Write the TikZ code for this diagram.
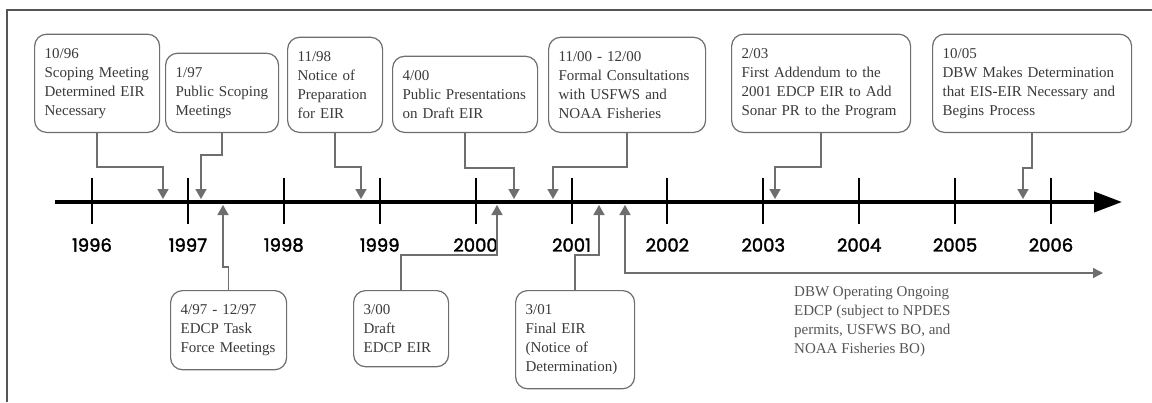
\documentclass[tikz,border=0pt]{standalone}
\usepackage{fontspec}
\setmainfont{Liberation Serif}
\newfontfamily\yearfont[FakeBold=2]{Poppins}
\usetikzlibrary{arrows.meta}
\definecolor{framegray}{HTML}{555555}
\definecolor{boxgray}{HTML}{6E6E6E}
\definecolor{txtgray}{HTML}{3A3A3A}

\begin{document}
\begin{tikzpicture}[x=1pt, y=-1pt,
    evbox/.style={draw=boxgray, line width=1.2pt, rounded corners=12pt, fill=white,
        align=left, inner xsep=10pt, inner ysep=14pt, text=txtgray,
        font=\fontsize{15}{19}\selectfont},
    conn/.style={draw=boxgray, line width=1.4pt, -{Triangle[width=11pt,length=10pt]}},
    tick/.style={line width=2pt, black},
    yearlbl/.style={font=\yearfont\fontsize{18}{20}\selectfont}]
    \useasboundingbox (0,0) rectangle (1152,402);
    \draw [framegray, line width=2pt] (7,402) -- (7,10) -- (1152,10);

    % time axis
    \coordinate (axL) at (55,202);
    \coordinate (axR) at (1122,202);
    \draw [line width=4pt, -{Triangle[width=20pt,length=28pt]}] (axL) -- (axR);
    \foreach \yr [count=\i from 0] in {1996,...,2006} {
        \draw [tick] (92+95.9*\i,178) -- ++(0,46);
        \node [yearlbl] (y\yr) at (92+95.9*\i,245) {\yr};
    }

    % events on the axis
    \coordinate (e1) at (163,199);
    \coordinate (e2) at (201,199);
    \coordinate (e3) at (361,199);
    \coordinate (e4) at (514,199);
    \coordinate (e5) at (553,199);
    \coordinate (e6) at (775,199);
    \coordinate (e7) at (1023,199);
    \coordinate (e8) at (223,205);
    \coordinate (e9) at (497,205);
    \coordinate (e10) at (599,205);
    \coordinate (e11) at (625,205);
    \coordinate (ongoing) at (1103,273);

    % boxes above
    \node [evbox, anchor=south west, text width=105pt] (b1) at (34,133)
        {10/96\\Scoping Meeting\\Determined EIR\\Necessary};
    \node [evbox, anchor=south west, text width=93pt] (b2) at (165,133)
        {1/97\\Public Scoping\\Meetings};
    \node [evbox, anchor=south west, text width=75pt] (b3) at (287,133)
        {11/98\\Notice of\\Preparation\\for EIR};
    \node [evbox, anchor=south west, text width=125pt] (b4) at (392,133)
        {4/00\\Public Presentations\\on Draft EIR};
    \node [evbox, anchor=south west, text width=137pt] (b5) at (548,133)
        {11/00 - 12/00\\Formal Consultations\\with USFWS and\\NOAA Fisheries};
    \node [evbox, anchor=south west, text width=159pt] (b6) at (731,133)
        {2/03\\First Addendum to the\\2001 EDCP EIR to Add\\Sonar PR to the Program};
    \node [evbox, anchor=south west, text width=179pt] (b7) at (932,133)
        {10/05\\DBW Makes Determination\\that EIS-EIR Necessary and\\Begins Process};

    % boxes below
    \node [evbox, anchor=north west, text width=96pt] (b8) at (170,290)
        {4/97 - 12/97\\EDCP Task\\Force Meetings};
    \node [evbox, anchor=north west, text width=75pt] (b9) at (353,290)
        {3/00\\Draft\\EDCP EIR};
    \node [evbox, anchor=north west, text width=99pt] (b10) at (515,290)
        {3/01\\Final EIR\\(Notice of\\Determination)};
    \node [anchor=north west, inner sep=0pt, align=left, text=framegray,
        font=\fontsize{15}{19}\selectfont] (dbw) at (794,286)
        {DBW Operating Ongoing\\EDCP (subject to NPDES\\permits, USFWS BO, and\\NOAA Fisheries BO)};

    % connectors
    \draw [conn] (b1.south) -- ++(0,34) -| (e1);
    \draw [conn] (b2.south) -- ++(0,22) -| (e2);
    \draw [conn] (b3.south) -- ++(0,34) -| (e3);
    \draw [conn] (b4.south) -- ++(0,35) -| (e4);
    \draw [conn] (b5.south) -- ++(0,34) -| (e5);
    \draw [conn] (b6.south) -- ++(0,34) -| (e6);
    \draw [conn] (b7.south) -- ++(0,35) -| (e7);
    \draw [conn] (b8.north) -- ++(0,-23) -| (e8);
    \draw [conn] (b9.north) -- ++(0,-35) -| (e9);
    \draw [conn] (b10.north) -- ++(0,-35) -| (e10);
    \draw [conn, {Triangle[width=11pt,length=10pt]}-{Triangle[width=10pt,length=10pt]}]
        (e11) |- (ongoing);
\end{tikzpicture}
\end{document}
